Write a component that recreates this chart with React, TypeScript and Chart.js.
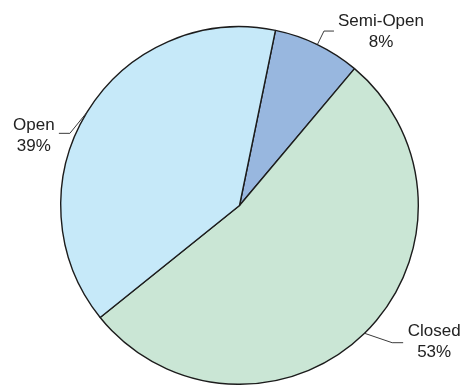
import React, { useEffect, useRef } from "react";
import { Chart, registerables } from "chart.js";

Chart.register(...registerables);

const categories = ["Semi-Open", "Closed", "Open"];
const shares = [7.9, 53.1, 39.0];
const percentLabels = ["8%", "53%", "39%"];
const sliceColors = ["#98b7df", "#cae6d5", "#c6e9f9"];

// label placement (leader elbow offset from arc edge, horizontal run, text offset)
const labelLayout = [
  { elbow: [6.6, -13.5], run: 10, textDx: 47, textDy: 0 },
  { elbow: [27.6, 9.4], run: 11, textDx: 31, textDy: -1 },
  { elbow: [-17, 21], run: -11, textDx: -25, textDy: 2 },
];

const leaderPlugin = {
  id: "leaderLabels",
  afterDatasetsDraw(chart: any) {
    const ctx = chart.ctx;
    const meta = chart.getDatasetMeta(0);
    ctx.save();
    meta.data.forEach((arc: any, i: number) => {
      const p = arc.getProps(["x", "y", "startAngle", "endAngle", "outerRadius"], true);
      const mid = (p.startAngle + p.endAngle) / 2;
      const ex = p.x + p.outerRadius * Math.cos(mid);
      const ey = p.y + p.outerRadius * Math.sin(mid);
      const L = labelLayout[i];
      const bx = ex + L.elbow[0];
      const by = ey + L.elbow[1];
      const hx = bx + L.run;
      ctx.strokeStyle = "#3a3a3a";
      ctx.lineWidth = 1;
      ctx.beginPath();
      ctx.moveTo(ex, ey);
      ctx.lineTo(bx, by);
      ctx.lineTo(hx, by);
      ctx.stroke();
      const tx = hx + L.textDx;
      const ty = by + L.textDy;
      ctx.fillStyle = "#222222";
      ctx.font = "17px 'Liberation Sans', Arial, sans-serif";
      ctx.textAlign = "center";
      ctx.textBaseline = "middle";
      ctx.fillText(categories[i], tx, ty - 10);
      ctx.fillText(percentLabels[i], tx, ty + 11);
    });
    ctx.restore();
  },
};

export default function App() {
  const ref = useRef<HTMLCanvasElement>(null);
  useEffect(() => {
    if (!ref.current) return;
    const chart = new Chart(ref.current, {
      type: "pie",
      data: {
        labels: categories,
        datasets: [
          {
            data: shares,
            backgroundColor: sliceColors,
            borderColor: "#1c1c1c",
            borderWidth: 1.4,
          },
        ],
      },
      options: {
        animation: false,
        responsive: false,
        rotation: 11.6,
        layout: { padding: { left: 60, right: 42, top: 26, bottom: 0 } },
        plugins: {
          legend: { display: false },
          tooltip: { enabled: false },
        },
      },
      plugins: [leaderPlugin],
    });
    return () => chart.destroy();
  }, []);
  return (
    <div style={{ position: "fixed", left: 0, top: 0, width: 461, height: 385, background: "#fff" }}>
      <canvas ref={ref} width={461} height={385} style={{ width: 461, height: 385 }} />
    </div>
  );
}
